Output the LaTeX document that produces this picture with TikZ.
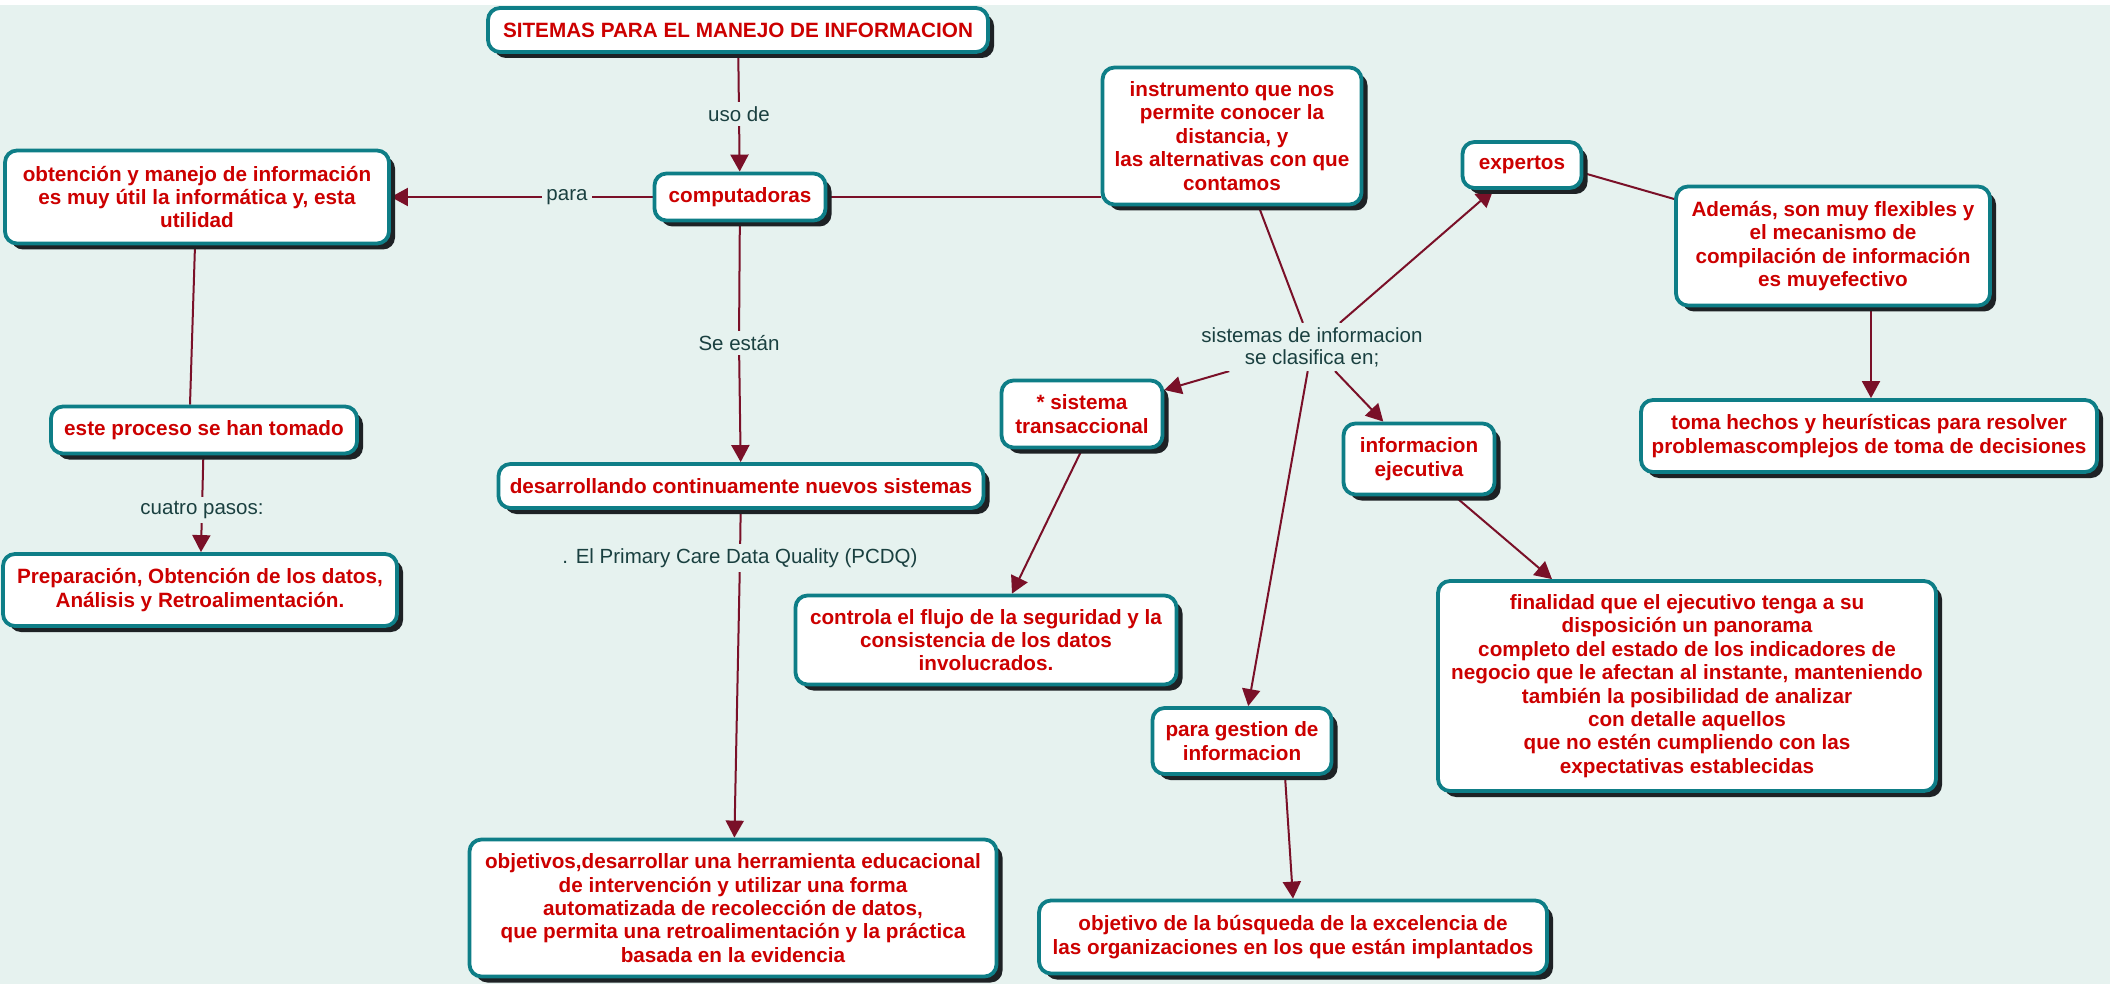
\documentclass[tikz,border=0pt]{standalone}
\usepackage{fontspec}
\setmainfont{Liberation Sans}
\usetikzlibrary{arrows.meta,shadows}
\definecolor{bgc}{HTML}{E6F2EF}
\definecolor{bordc}{HTML}{0E7E87}
\definecolor{redt}{HTML}{CC0000}
\definecolor{lblc}{HTML}{1A4040}
\definecolor{linec}{HTML}{7A1028}
\definecolor{shadc}{HTML}{1E2225}
\pgfdeclarelayer{backlayer}
\pgfsetlayers{backlayer,main}
\tikzset{
  box/.style={draw=bordc, line width=1.9pt, fill=white, rounded corners=6pt,
    align=center, text=redt, font=\bfseries\fontsize{10.35}{11.7}\selectfont, inner sep=2pt,
    drop shadow={shadow xshift=3pt, shadow yshift=-3pt, fill=shadc, opacity=1}},
  lbl/.style={fill=bgc, text=lblc, font=\fontsize{10.25}{11}\selectfont, inner sep=2pt, align=center},
  conn/.style={draw=linec, line width=1pt},
  arr/.style={conn, -{Triangle[width=9pt,length=8.5pt]}},
}
\begin{document}
\begin{tikzpicture}[x=0.5pt,y=-0.5pt]
\useasboundingbox (0,0) rectangle (2110,984);
% boxes
\node[box, minimum width=250pt, minimum height=22pt] (title) at (738,30) {SITEMAS PARA EL MANEJO DE INFORMACION};
\node[box, minimum width=85.5pt, minimum height=23.5pt] (comp) at (740,197) {computadoras};
\node[box, minimum width=192pt, minimum height=46.5pt] (obt) at (197,197) {obtención y manejo de información\\es muy útil la informática y, esta\\utilidad};
\node[box, minimum width=153pt, minimum height=23.5pt] (proc) at (204,430) {este proceso se han tomado};
\node[box, minimum width=197pt, minimum height=36pt] (prep) at (200,590) {Preparación, Obtención de los datos,\\Análisis y Retroalimentación.};
\node[box, minimum width=242.5pt, minimum height=22pt] (des) at (741,486) {desarrollando continuamente nuevos sistemas};
\node[box, minimum width=263.5pt, minimum height=68.5pt] (obj) at (733,908) {objetivos,desarrollar una herramienta educacional\\de intervención y utilizar una forma\\automatizada de recolección de datos,\\que permita una retroalimentación y la práctica\\basada en la evidencia};
\node[box, minimum width=129.5pt, minimum height=68.5pt] (inst) at (1232,136) {instrumento que nos\\permite conocer la\\distancia, y\\las alternativas con que\\contamos};
\node[box, minimum width=59.5pt, minimum height=23pt] (exp) at (1522,165) {expertos};
\node[box, minimum width=157pt, minimum height=59.5pt] (adem) at (1833,246) {Además, son muy flexibles y\\el mecanismo de\\compilación de información\\es muyefectivo};
\node[box, minimum width=228pt, minimum height=36pt] (toma) at (1869,436) {toma hechos y heurísticas para resolver\\problemascomplejos de toma de decisiones};
\node[box, minimum width=80.5pt, minimum height=33.5pt] (trans) at (1082,414) {* sistema\\transaccional};
\node[box, minimum width=75.5pt, minimum height=35.5pt] (ejec) at (1419,459) {informacion\\ejecutiva};
\node[box, minimum width=190.5pt, minimum height=44.5pt] (contr) at (986,640) {controla el flujo de la seguridad y la\\consistencia de los datos\\involucrados.};
\node[box, minimum width=249pt, minimum height=105pt] (fin) at (1687,686) {finalidad que el ejecutivo tenga a su\\disposición un panorama\\completo del estado de los indicadores de\\negocio que le afectan al instante, manteniendo\\también la posibilidad de analizar\\con detalle aquellos\\que no estén cumpliendo con las\\expectativas establecidas};
\node[box, minimum width=89.5pt, minimum height=33pt] (gest) at (1242,741) {para gestion de\\informacion};
\node[box, minimum width=254pt, minimum height=36.5pt] (objv) at (1293,937) {objetivo de la búsqueda de la excelencia de\\las organizaciones en los que están implantados};
% labels
\node[lbl] (usode) at (739,114) {uso de};
\node[lbl] (para) at (567,197) {para};
\node[lbl] (seestan) at (739,343) {Se están};
\node[lbl] (pcdq) at (740,558) {. El Primary Care Data Quality (PCDQ)};
\node[lbl] (cuatro) at (202,510) {cuatro pasos:};
\node[lbl] (sis) at (1312,347) {sistemas de informacion\\se clasifica en;};
% connectors behind boxes
\begin{pgfonlayer}{backlayer}
\fill[bgc] (0,0) rectangle (2110,984);
\fill[white] (0,0) rectangle (2110,5);
\draw[conn] (title) -- (usode);
\draw[arr] (usode) -- (comp);
\draw[conn] (comp) -- (para);
\draw[arr] (para) -- (obt);
\draw[conn] (comp.east) -- (comp.east -| inst.west);
\draw[conn] (comp) -- (seestan);
\draw[arr] (seestan) -- (des);
\draw[conn] (des) -- (pcdq);
\draw[arr] (pcdq) -- (obj);
\draw[conn] ([xshift=-1pt]obt.south) -- ([xshift=-7pt]proc.north);
\draw[conn] (proc) -- (cuatro);
\draw[arr] (cuatro) -- (prep);
\draw[conn] (inst) -- (sis);
\draw[arr] (sis) -- (exp);
\draw[arr] (sis) -- (trans);
\draw[arr] (sis) -- (ejec);
\draw[arr] (sis) -- (gest);
\draw[conn] ([yshift=-4pt]exp.east) -- ([yshift=23.5pt]adem.west);
\draw[arr] ([xshift=19pt]adem.south) -- ([xshift=1pt]toma.north);
\draw[arr] (trans.south) -- ([xshift=13pt]contr.north);
\draw[arr] ([xshift=18pt]ejec.south) -- ([xshift=-67.5pt]fin.north);
\draw[arr] ([xshift=21.5pt]gest.south) -- (objv.north);
\end{pgfonlayer}
\end{tikzpicture}
\end{document}
